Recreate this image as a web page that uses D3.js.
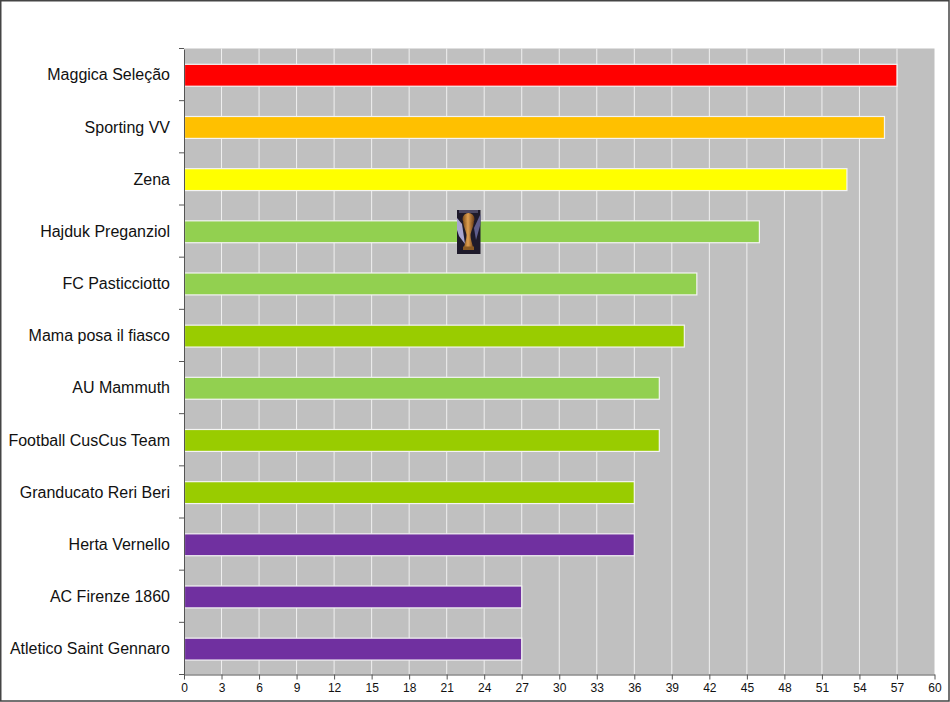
<!DOCTYPE html>
<html lang="en">

<head>
    <meta charset="UTF-8">
    <title>Classifica</title>
    <script src="https://d3js.org/d3.v7.min.js"></script>
    <style>
        html, body {
            margin: 0;
            padding: 0;
            background: #fff;
            overflow: hidden;
        }

        svg {
            display: block;
            font-family: "Liberation Sans", Arial, sans-serif;
        }
    </style>
</head>

<body>
    <svg id="chart" width="950" height="702"></svg>

    <script>
        const teams = ["Maggica Seleção", "Sporting VV", "Zena", "Hajduk Preganziol", "FC Pasticciotto",
            "Mama posa il fiasco", "AU Mammuth", "Football CusCus Team", "Granducato Reri Beri",
            "Herta Vernello", "AC Firenze 1860", "Atletico Saint Gennaro"];
        const points = [57, 56, 53, 46, 41, 40, 38, 38, 36, 36, 27, 27];
        const barColors = ["#ff0000", "#ffc000", "#ffff00", "#92d050", "#92d050", "#99cc00",
            "#92d050", "#99cc00", "#99cc00", "#7030a0", "#7030a0", "#7030a0"];
        const xTicks = d3.range(0, 61, 3);

        const width = 950, height = 702;
        const plotLeft = 184, plotRight = 934.5, plotTop = 48.5, plotBottom = 674.5;

        const svg = d3.select("#chart");

        const x = d3.scaleLinear().domain([0, 60]).range([plotLeft, plotRight]);
        const y = d3.scaleBand().domain(teams).range([plotTop, plotBottom]);
        const barHeight = y.bandwidth() * 0.42;

        // outer frame
        svg.append("rect")
            .attr("x", 0.75).attr("y", 0.75)
            .attr("width", width - 1.75).attr("height", height - 1.75)
            .attr("fill", "#fff")
            .attr("stroke", "#444")
            .attr("stroke-width", 1.5);

        // plot area and gridlines
        svg.append("rect")
            .attr("x", plotLeft).attr("y", plotTop)
            .attr("width", plotRight - plotLeft).attr("height", plotBottom - plotTop)
            .attr("fill", "#c0c0c0");

        svg.append("g").selectAll("line")
            .data(xTicks.slice(1, -1))
            .enter()
            .append("line")
            .attr("x1", d => x(d)).attr("x2", d => x(d))
            .attr("y1", plotTop).attr("y2", plotBottom)
            .attr("stroke", "#f0f0f0")
            .attr("stroke-width", 1);

        // bars
        svg.append("g").selectAll("rect")
            .data(teams)
            .enter()
            .append("rect")
            .attr("x", plotLeft + 0.5)
            .attr("y", d => y(d) + (y.bandwidth() - barHeight) / 2 + 0.7)
            .attr("width", (d, i) => x(points[i]) - plotLeft - 0.5)
            .attr("height", barHeight)
            .attr("fill", (d, i) => barColors[i])
            .attr("stroke", "#f4f4f4")
            .attr("stroke-width", 1.2);

        // axes
        const xAxis = svg.append("g")
            .attr("transform", `translate(0,${plotBottom})`)
            .call(d3.axisBottom(x).tickValues(xTicks).tickSize(5).tickPadding(4).tickSizeOuter(0));
        xAxis.selectAll("text").attr("font-size", 12).attr("font-family", "Liberation Sans").attr("fill", "#111");

        const yAxis = svg.append("g")
            .attr("transform", `translate(${plotLeft},0.7)`)
            .call(d3.axisLeft(y).tickSize(0).tickPadding(14));
        yAxis.selectAll("text").attr("font-size", 16).attr("font-family", "Liberation Sans").attr("fill", "#111");

        svg.selectAll(".domain").attr("stroke", "#555").attr("stroke-width", 1);
        svg.selectAll(".tick line").attr("stroke", "#555");

        // separators between categories on the y axis
        svg.append("g").selectAll("line")
            .data(d3.range(13))
            .enter()
            .append("line")
            .attr("x1", plotLeft - 5).attr("x2", plotLeft)
            .attr("y1", i => plotTop + i * y.step()).attr("y2", i => plotTop + i * y.step())
            .attr("stroke", "#555");

        // trophy picture
        const defs = svg.append("defs");
        const gold = defs.append("linearGradient").attr("id", "gold");
        gold.append("stop").attr("offset", "0").attr("stop-color", "#7a4a18");
        gold.append("stop").attr("offset", "0.45").attr("stop-color", "#e0a050");
        gold.append("stop").attr("offset", "1").attr("stop-color", "#6a3c14");

        const trophy = svg.append("g").attr("transform", "translate(457,210)");
        trophy.append("rect").attr("width", 23.5).attr("height", 44).attr("fill", "#1e1a2a");
        trophy.append("path").attr("d", "M0,8 L5,14 L8,34 L2,26 L0,20 Z").attr("fill", "#a8a6d0");
        trophy.append("path").attr("d", "M23.5,4 L17,18 L19,30 L23.5,14 Z").attr("fill", "#5f5d8c");
        trophy.append("path").attr("d", "M2,0 H21 V3 H2 Z").attr("fill", "#4a4660");
        trophy.append("circle").attr("cx", 11.5).attr("cy", 9).attr("r", 6).attr("fill", "url(#gold)");
        trophy.append("path")
            .attr("d", "M6,12 C7,18 9,21 9.5,25 C9.5,29 8,33 7,37 L16,37 C15,33 13.5,29 13.5,25 C14,21 16,18 17,12 Z")
            .attr("fill", "url(#gold)");
        trophy.append("rect").attr("x", 6).attr("y", 36.5).attr("width", 11).attr("height", 3.5).attr("fill", "#8a5a22");
    </script>
</body>

</html>
